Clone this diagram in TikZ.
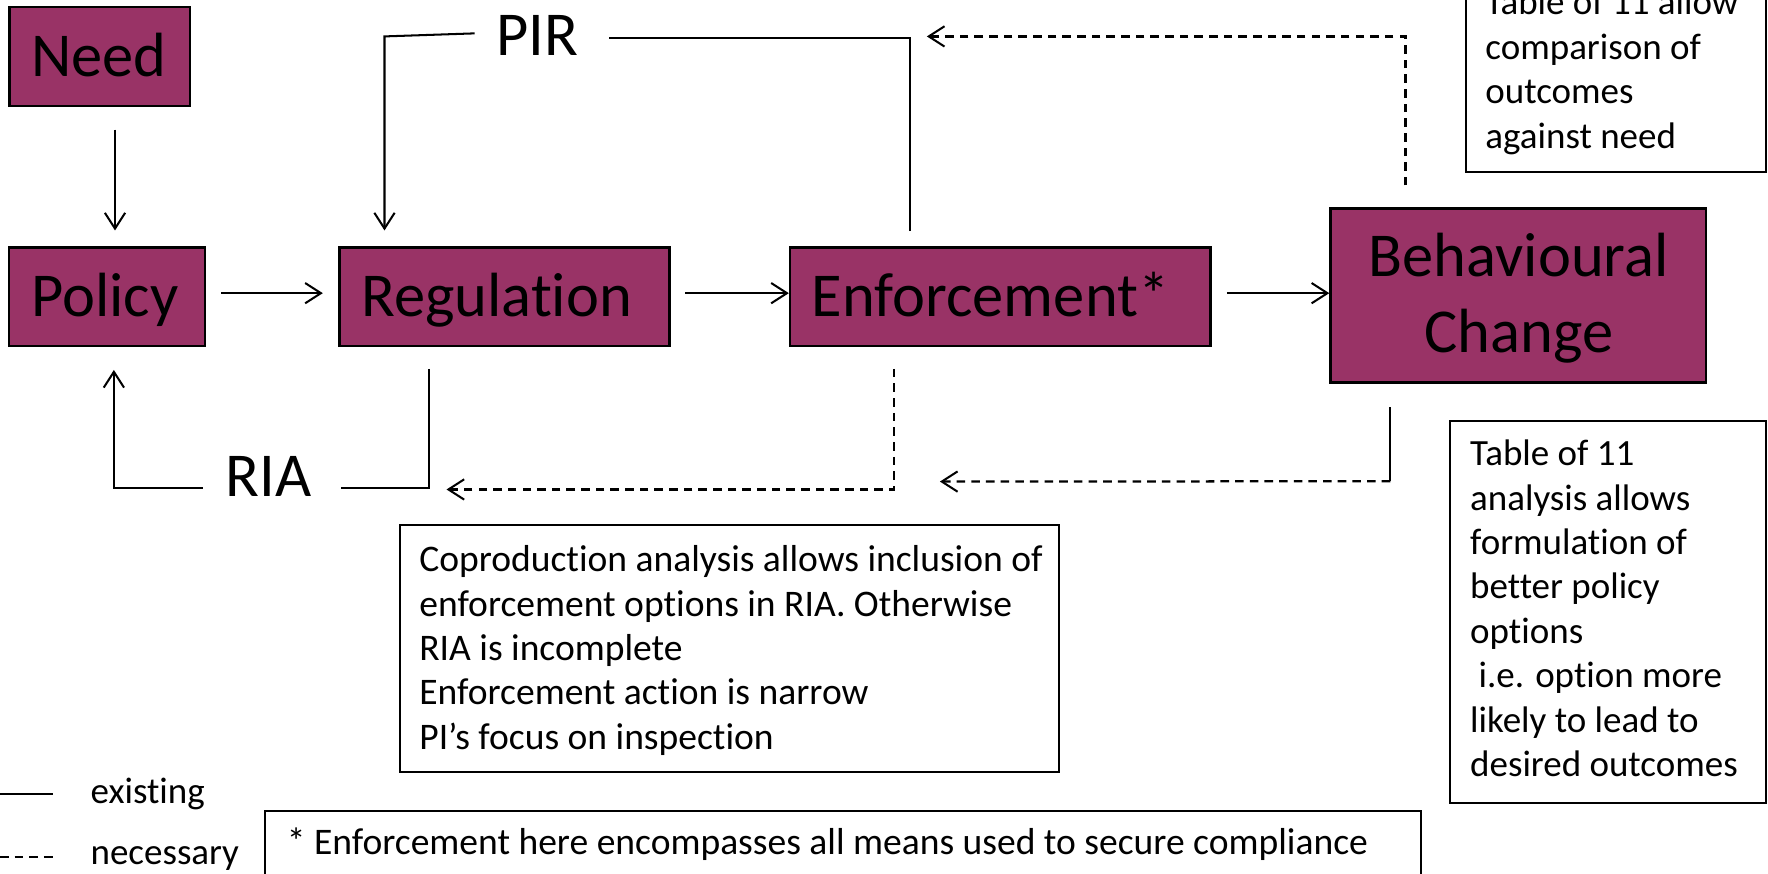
\documentclass[tikz,border=0pt]{standalone}
\usepackage{fontspec}
\setmainfont{Carlito}[Ligatures=CommonOff]
\usetikzlibrary{arrows.meta,calc}
\definecolor{boxfill}{HTML}{993366}
\begin{document}
\begin{tikzpicture}[x=0.5pt,y=-0.5pt,
  bigfont/.style={font=\fontsize{27.7}{33.8}\selectfont},
  smallfont/.style={font=\fontsize{16.4}{19.7}\selectfont},
  notefont/.style={font=\fontsize{16.65}{19.7}\selectfont},
  stagebox/.style={draw=black, fill=boxfill, line width=1.1pt, bigfont,
    inner xsep=9.7pt, inner ysep=0pt, align=flush left,
    text height=19.5pt, text depth=2pt},
  plainbox/.style={draw=black, fill=boxfill, line width=1.1pt, inner sep=0pt},
  notebox/.style={draw=black, line width=0.9pt, fill=white, inner sep=0pt},
  lbl/.style={inner sep=0pt, anchor=base west},
  solidline/.style={line width=0.9pt},
  dashline/.style={line width=1pt, dash pattern=on 3.8pt off 2.7pt},
  tip/.style={-{Straight Barb[length=7pt,width=9pt,line width=0.9pt]}},
]
\useasboundingbox (0,0) rectangle (1568,775);

% stage boxes
\node[stagebox, minimum width=80.2pt, minimum height=43.9pt, text width=60.8pt] (need) at (88.5,50.1) {Need};
\node[stagebox, minimum width=86.8pt, minimum height=43.6pt, text width=67.4pt] (policy) at (95,263.2) {Policy};
\node[stagebox, minimum width=146.5pt, minimum height=43.6pt, text width=127.1pt] (reg) at (447.4,263.2) {Regulation};
\node[stagebox, minimum width=186.5pt, minimum height=43.6pt, text width=167.1pt] (enf) at (887.2,263.2) {Enforcement*};
\node[plainbox, minimum width=166.5pt, minimum height=77.3pt] (bc) at (1346.5,262.1) {};
\node[lbl, bigfont] (bctext) at (1180,245.4) {\vtop{\hbox to 166.5pt{\hss Behavioural\hss}\hbox to 166.5pt{\hss Change\hss}}};

% loop labels
\node[lbl, bigfont] (pir) at (440,48.8) {PIR};
\node[lbl, bigfont] (ria) at (200,440.5) {RIA};
\coordinate (pirR) at (540,33.4);
\coordinate (pirL) at (421,29.6);
\coordinate (riaR) at (302,433);
\coordinate (riaL) at (180,433);

% note boxes
\node[notebox, minimum width=133pt, minimum height=91.15pt] (topnote) at (1433,61.15) {};
\node[lbl, smallfont] (topnotetext) at (1317,13.3) {\vtop{\hbox{Table of 11 allow}\hbox{comparison of}\hbox{outcomes}\hbox{against need}}};

\node[notebox, minimum width=140.3pt, minimum height=169.4pt] (rightnote) at (1426.3,542.4) {};
\node[lbl, smallfont] (rightnotetext) at (1303.5,413) {\vtop{\hbox{Table of 11}\hbox{analysis allows}\hbox{formulation of}\hbox{better policy}\hbox{options}\hbox{\ i.e. option more}\hbox{likely to lead to}\hbox{desired outcomes}}};

\node[notebox, minimum width=292.5pt, minimum height=109.25pt] (copro) at (647,575.25) {};
\node[lbl, notefont] (coprotext) at (371.5,507) {\vtop{\hbox{Coproduction analysis allows inclusion of}\hbox{enforcement options in RIA. Otherwise}\hbox{RIA is incomplete}\hbox{Enforcement action is narrow}\hbox{PI’s focus on inspection}}};

\node[notebox, minimum width=512.5pt, minimum height=40.25pt] (foot) at (747.5,759.75) {};
\node[lbl, notefont] (foottext) at (254,758) {* Enforcement here encompasses all means used to secure compliance};

% legend
\coordinate (legA1) at (0,704);
\coordinate (legA2) at (47,704);
\coordinate (legB1) at (0,760);
\coordinate (legB2) at (47,760);
\draw[solidline] (legA1) -- (legA2);
\draw[dashline] (legB1) -- (legB2);
\node[lbl, smallfont] (existing) at (80,713) {existing};
\node[lbl, smallfont] (necessary) at (80,767) {necessary};

% main flow
\draw[solidline, tip] ($(need.south)+(13.5,19.8)$) -- ($(policy.north)+(7,-14.1)$);
\draw[solidline, tip] ($(policy.east)+(13.1,-3.2)$) -- ($(reg.west)+(-13.5,-3.2)$);
\draw[solidline, tip] ($(reg.east)+(12.9,-3.2)$) -- ($(enf.west)+(0,-3.2)$);
\draw[solidline, tip] ($(enf.east)+(13.3,-3.2)$) -- ($(bc.west)+(0,-2.1)$);

% PIR loop
\draw[solidline] ($(enf.north)+(-80.2,-13.6)$) |- (pirR);
\draw[solidline, tip] (pirL) -- ($(reg.north)+(-106.4,-186.2)$) -- ($(reg.north)+(-106.4,-14.1)$);
\draw[dashline, tip] ($(bc.north)+(-99.9,-19.2)$) |- ($(enf.north)+(-65.2,-186.2)$);

% RIA loop
\draw[solidline] ($(reg.south)+(-66.7,19.2)$) |- (riaR);
\draw[solidline, tip] (riaL) -| ($(policy.south)+(6,20.2)$);
\draw[dashline, tip] ($(enf.south)+(-94.2,19.2)$) |- ($(reg.south)+(-51.4,126.2)$);

% from behavioural change
\coordinate (bcturn) at ($(bc.south)+(-113.5,86.3)$);
\draw[solidline] ($(bc.south)+(-113.5,20.6)$) -- (bcturn);
\draw[dashline, tip] (bcturn) -- ($(enf.south)+(-53.6,119.2)$);
\end{tikzpicture}
\end{document}
